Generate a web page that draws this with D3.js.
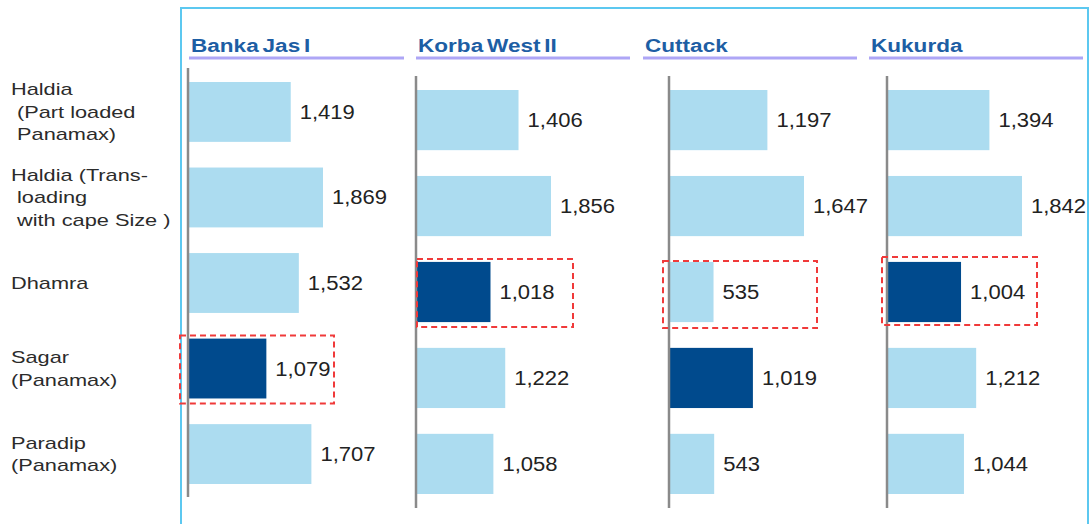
<!DOCTYPE html>
<html>
<head>
<meta charset="utf-8">
<script src="https://cdn.jsdelivr.net/npm/d3@7"></script>
<style>
  body { margin: 0; background: #fff; }
  svg text { font-family: "Liberation Sans", Arial, sans-serif; white-space: pre; }
</style>
</head>
<body>
<div id="chart"></div>
<script>
// ports (rows), label lines for each row
const ports = ['Haldia PL', 'Haldia TL', 'Dhamra', 'Sagar', 'Paradip']
const portLabels = [
    ['Haldia', ' (Part loaded', ' Panamax)'],
    ['Haldia (Trans-', ' loading', ' with cape Size )'],
    ['Dhamra'],
    ['Sagar', '(Panamax)'],
    ['Paradip', '(Panamax)']
]
// plants (panels)
const plants = ['Banka Jas I', 'Korba West II', 'Cuttack', 'Kukurda']
const bankaJas = [1419, 1869, 1532, 1079, 1707]
const korbaWest = [1406, 1856, 1018, 1222, 1058]
const cuttack = [1197, 1647, 535, 1019, 543]
const kukurda = [1394, 1842, 1004, 1212, 1044]
const plantValues = [bankaJas, korbaWest, cuttack, kukurda]
// port with the darkest bar and port boxed with the dashed outline
const darkPort = ['Sagar', 'Dhamra', 'Sagar', 'Dhamra']
const boxedPort = ['Sagar', 'Dhamra', 'Dhamra', 'Dhamra']

// layout for each panel
const layout = [
    { axisX: 188, head: 189, headEnd: 404, top: 82, bottom: 484, axisTop: 68, axisBottom: 497, box: [-8, 146, -3, 5] },
    { axisX: 416, head: 416, headEnd: 630, top: 90, bottom: 494, axisTop: 76, axisBottom: 508, box: [1, 157, -3, 5] },
    { axisX: 669, head: 643, headEnd: 857, top: 90, bottom: 494, axisTop: 76, axisBottom: 508, box: [-6, 148, -1, 6] },
    { axisX: 887, head: 869, headEnd: 1083, top: 90, bottom: 494, axisTop: 76, axisBottom: 508, box: [-5, 150, -5, 3] }
]
const maxBar = 134
const light = '#acdcf0', dark = '#004a8d'

const svg = d3.select('#chart').append('svg')
    .attr('width', 1090)
    .attr('height', 524)

// outer frame (top, left, right)
svg.append('path')
    .attr('d', 'M181,524 V8 H1088 V524')
    .attr('fill', 'none')
    .attr('stroke', '#5cc8f0')
    .attr('stroke-width', 2)

// row labels on the left, centred on the first panel rows
const yLabels = d3.scaleBand().domain(ports).range([layout[0].top, layout[0].bottom]).paddingInner(0.3)
const lineH = 22.5
ports.forEach((p, i) => {
    const lines = portLabels[i]
    const cy = yLabels(p) + yLabels.bandwidth() / 2
    const t = svg.append('text')
        .attr('transform', 'translate(11,' + (cy - (lines.length - 1) * lineH / 2) + ') scale(1.36,1)')
        .attr('font-size', 16)
        .attr('fill', '#2b2b2b')
    lines.forEach((l, j) => {
        t.append('tspan')
            .attr('x', 0)
            .attr('y', j * lineH)
            .attr('dy', '0.36em')
            .text(l)
    })
})

plants.forEach((plant, k) => {
    const L = layout[k]
    const vals = plantValues[k]
    const g = svg.append('g')

    // header and underline
    g.append('text')
        .attr('transform', 'translate(' + (L.head + 2) + ',52) scale(1.22,1)')
        .attr('font-size', 18.5)
        .attr('font-weight', 'bold')
        .attr('word-spacing', -2)
        .attr('fill', '#1d5ea4')
        .text(plant)
    g.append('line')
        .attr('x1', L.head).attr('x2', L.headEnd)
        .attr('y1', 58).attr('y2', 58)
        .attr('stroke', '#aea6f6')
        .attr('stroke-width', 3)

    const x = d3.scaleLinear().domain([0, d3.max(vals)]).range([L.axisX + 1, L.axisX + 1 + maxBar])
    const y = d3.scaleBand().domain(ports).range([L.top, L.bottom]).paddingInner(0.3)

    g.selectAll('rect.bar')
        .data(vals)
        .join('rect')
        .attr('class', 'bar')
        .attr('x', x(0))
        .attr('y', (d, i) => y(ports[i]))
        .attr('width', d => x(d) - x(0))
        .attr('height', y.bandwidth())
        .attr('fill', (d, i) => ports[i] === darkPort[k] ? dark : light)

    g.selectAll('text.val')
        .data(vals)
        .join('text')
        .attr('class', 'val')
        .attr('transform', (d, i) => 'translate(' + (x(d) + 9) + ',' + (y(ports[i]) + y.bandwidth() / 2) + ') scale(1.13,1)')
        .attr('dy', '0.36em')
        .attr('font-size', 19.5)
        .attr('fill', '#222')
        .text(d => d3.format(',')(d))

    // axis line
    g.append('line')
        .attr('x1', L.axisX).attr('x2', L.axisX)
        .attr('y1', L.axisTop).attr('y2', L.axisBottom)
        .attr('stroke', '#8a8a8a')
        .attr('stroke-width', 2.5)

    // dashed highlight box
    const by = y(boxedPort[k])
    g.append('rect')
        .attr('x', L.axisX + L.box[0])
        .attr('y', by + L.box[2])
        .attr('width', L.box[1] - L.box[0])
        .attr('height', y.bandwidth() + L.box[3] - L.box[2])
        .attr('fill', 'none')
        .attr('stroke', '#f03a3a')
        .attr('stroke-width', 2)
        .attr('stroke-dasharray', '6,4')
})
</script>
</body>
</html>
